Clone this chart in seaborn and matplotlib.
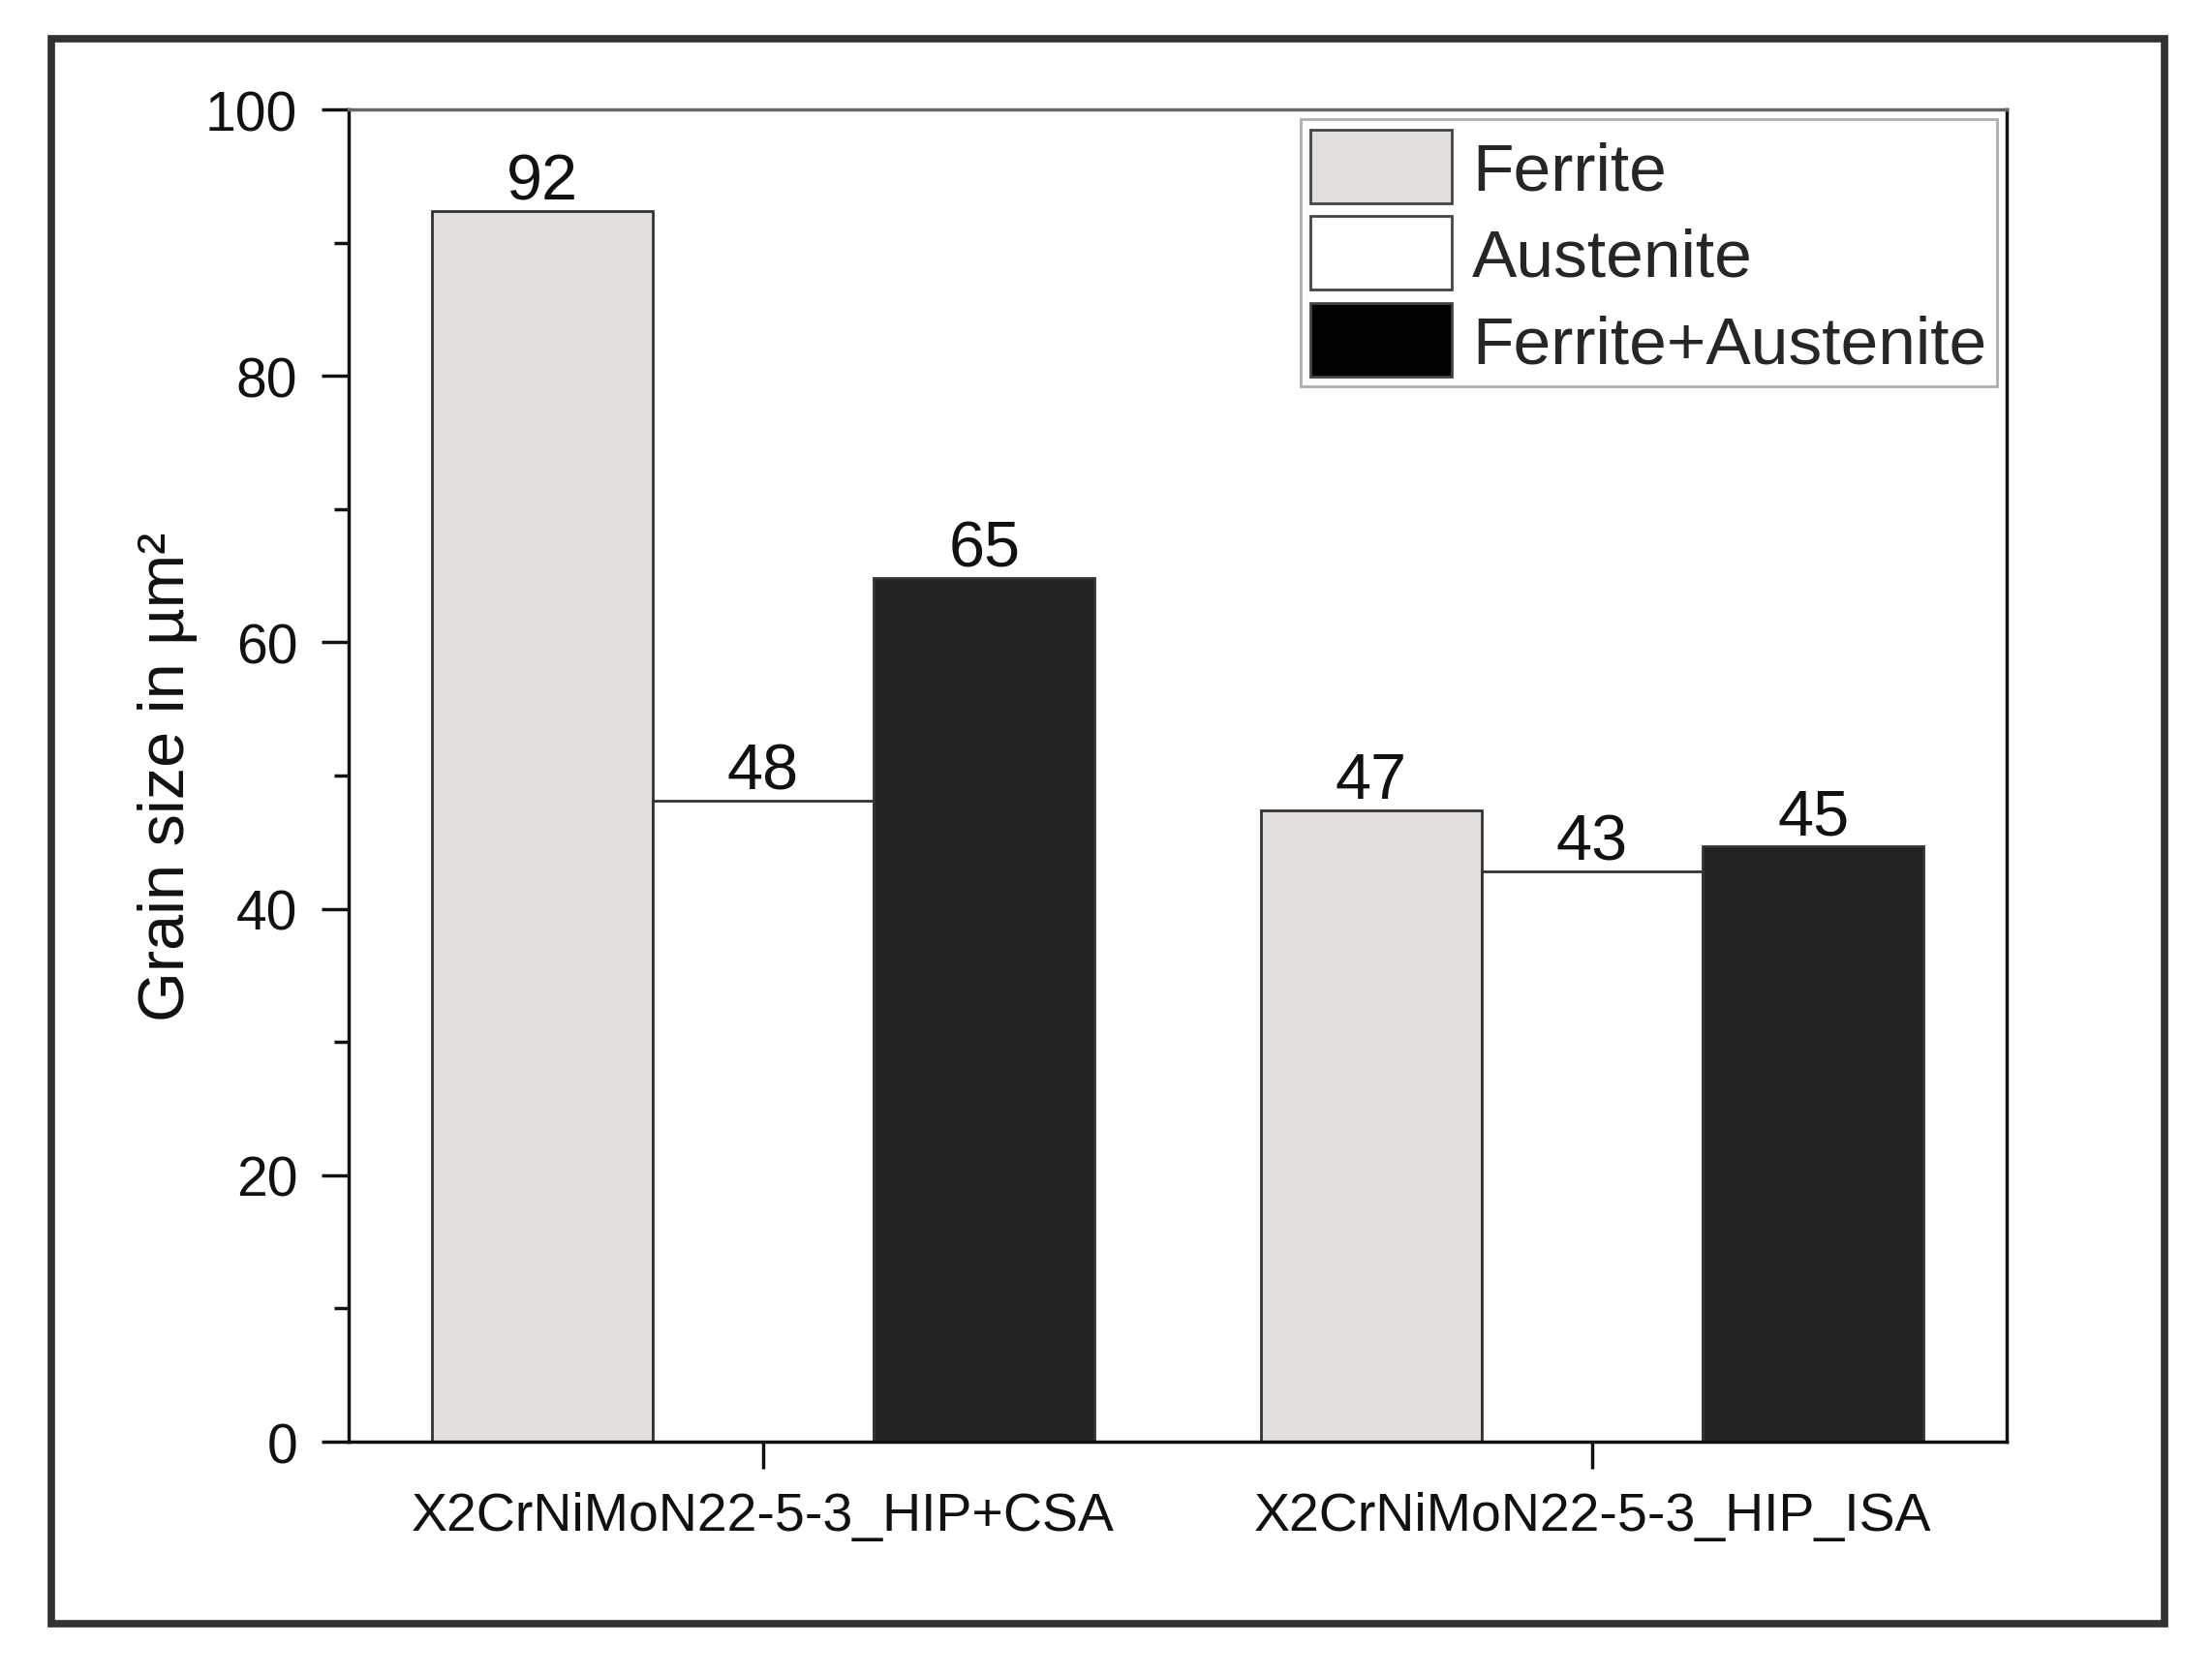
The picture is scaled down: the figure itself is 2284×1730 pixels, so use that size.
import matplotlib
matplotlib.use("Agg")
import matplotlib.pyplot as plt
import seaborn as sns
import pandas as pd
from matplotlib.patches import Patch, Rectangle
from matplotlib.ticker import MultipleLocator

# ---- data ----
samples = ["X2CrNiMoN22-5-3_HIP+CSA", "X2CrNiMoN22-5-3_HIP_ISA"]
phases = ["Ferrite", "Austenite", "Ferrite+Austenite"]
ferrite = [92.4, 47.4]
austenite = [48.1, 42.8]
ferrite_austenite = [64.8, 44.7]
colors = ["#e2dedb", "#ffffff", "#252223"]
legend_colors = ["#e2dedb", "#ffffff", "#000000"]
y_ticks = [0, 20, 40, 60, 80, 100]

rows = []
for phase, vals in zip(phases, [ferrite, austenite, ferrite_austenite]):
    for s, v in zip(samples, vals):
        rows.append({"sample": s, "phase": phase, "value": v})
df = pd.DataFrame(rows)

sns.set_theme(style="white")
plt.rcParams["font.family"] = ["Liberation Sans", "DejaVu Sans"]

fig = plt.figure(figsize=(22.84, 17.31), dpi=100)
ax = fig.add_axes([0.1576, 0.1392, 0.7496, 0.7949])

sns.barplot(data=df, x="sample", y="value", hue="phase", order=samples,
            hue_order=phases, palette=colors, edgecolor="#333333",
            linewidth=2, saturation=1, width=0.8, legend=False, ax=ax)

for cont in ax.containers:
    ax.bar_label(cont, fmt="%.0f", fontsize=48, padding=-1, color="#111111")

ax.set_xlim(-0.5, 1.5)
ax.set_ylim(0, 100)
ax.set_yticks(y_ticks)
ax.yaxis.set_minor_locator(MultipleLocator(10))
ax.set_xlabel("")
ax.set_ylabel("Grain size in µm²", fontsize=48, labelpad=6, color="#111111")

ax.tick_params(axis="y", which="major", direction="out", length=20, width=2.5,
               labelsize=41, pad=18, left=True, colors="#111111")
ax.tick_params(axis="y", which="minor", direction="out", length=11, width=2.5,
               left=True, colors="#111111")
ax.tick_params(axis="x", which="major", direction="out", length=20, width=2.5,
               labelsize=40, pad=17, bottom=True, colors="#111111")

for side in ["left", "bottom", "right"]:
    ax.spines[side].set_color("#111111")
    ax.spines[side].set_linewidth(2.5)
ax.spines["top"].set_color("#666666")
ax.spines["top"].set_linewidth(2.5)

handles = [Patch(facecolor=c, edgecolor="#444444", linewidth=2) for c in legend_colors]
leg = ax.legend(handles, phases, loc="upper right", fontsize=50, frameon=True,
                fancybox=False, edgecolor="#999999", handlelength=2.1,
                handleheight=1.3, handletextpad=0.3, labelspacing=0.2,
                borderpad=0.15, borderaxespad=0.15)
leg.get_frame().set_linewidth(2)

fig.patches.append(Rectangle((0.0232, 0.0306), 0.9553, 0.9457, transform=fig.transFigure,
                             fill=False, edgecolor="#333230", linewidth=5.5))

fig.savefig("out.png", dpi=100, facecolor="white")
